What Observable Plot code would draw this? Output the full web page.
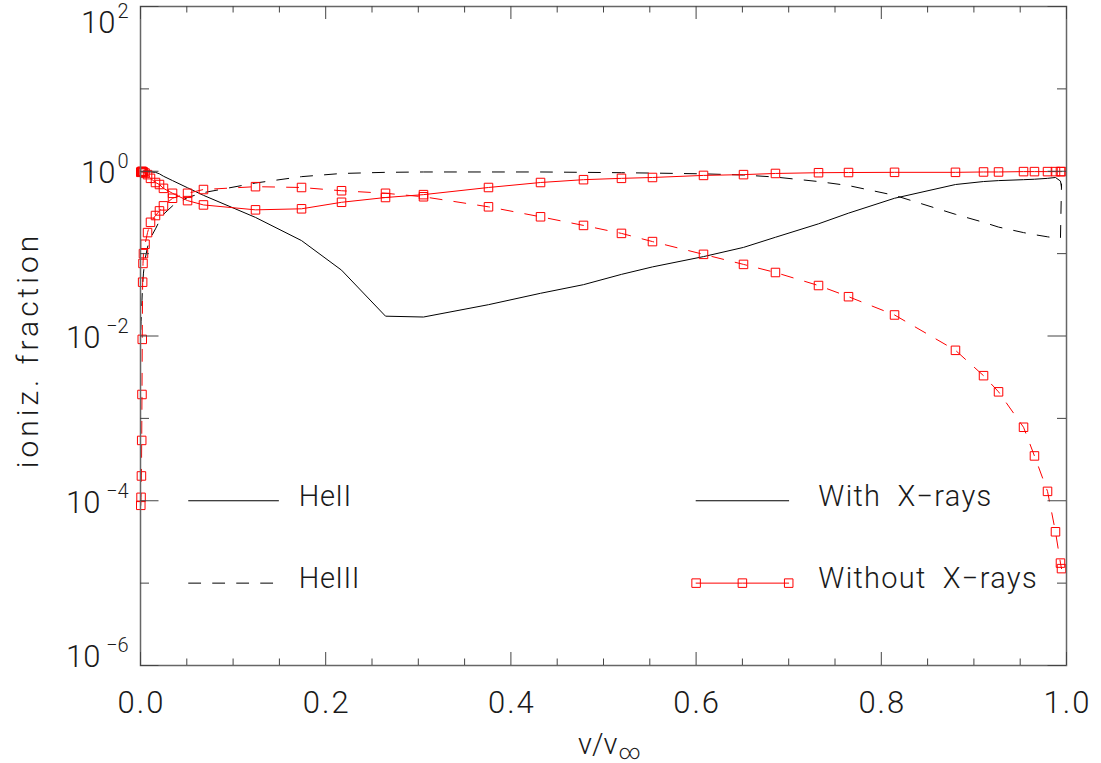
<!DOCTYPE html>
<html><head><meta charset="utf-8">
<script src="https://cdn.jsdelivr.net/npm/d3@7"></script>
<script src="https://cdn.jsdelivr.net/npm/@observablehq/plot@0.6"></script>
<style>
html,body{margin:0;padding:0;background:#fff;}
#chart svg text{font-family: Roboto, "DejaVu Sans", sans-serif; font-weight:300;}
</style></head><body><div id="chart"></div>
<script>
// velocity grid v/v_inf (shared by all four models)
const xGrid = [0.0003,0.0006,0.001,0.0013,0.0016,0.0019,0.0023,0.0027,0.0032,0.0049,
  0.0076,0.0108,0.0162,0.0205,0.0248,0.0346,0.0508,0.068,0.1242,0.1739,
  0.2171,0.2646,0.3056,0.3758,0.432,0.4784,0.5194,0.5529,0.608,0.6512,
  0.6857,0.7322,0.7646,0.8143,0.8801,0.9104,0.9266,0.9536,0.9654,0.9795,
  0.9881,0.9935,0.9946];
// With X-rays
const heII_X = [0.98,0.98,0.98,0.98,0.98,0.98,0.98,0.98,0.98,0.98,
  0.98,0.98,0.97,0.93,0.87,0.77,0.63,0.51,0.275,0.144,
  0.063,0.0174,0.017,0.024,0.033,0.042,0.056,0.069,0.092,0.119,
  0.158,0.23,0.31,0.47,0.69,0.75,0.77,0.79,0.8,0.82,
  0.84,0.76,0.64];
const heIII_X = [0.012,0.015,0.018,0.022,0.027,0.033,0.04,0.048,0.058,0.085,
  0.12,0.155,0.2,0.25,0.3,0.38,0.48,0.55,0.72,0.86,
  0.94,0.97,0.98,0.98,0.98,0.97,0.96,0.95,0.93,0.9,
  0.85,0.75,0.67,0.51,0.3,0.24,0.21,0.18,0.17,0.16,
  0.155,0.155,0.7];
// Without X-rays
const heII_noX = [0.97,0.98,0.99,0.99,0.99,0.99,0.99,0.98,0.97,0.95,
  0.91,0.82,0.73,0.69,0.62,0.54,0.44,0.39,0.34,0.35,
  0.42,0.48,0.52,0.635,0.73,0.79,0.82,0.84,0.89,0.91,
  0.94,0.96,0.965,0.97,0.97,0.98,0.98,0.99,0.99,0.99,
  0.99,0.99,0.99];
const heIII_noX = [8.8e-5,1.1e-4,2.0e-4,5.4e-4,1.95e-3,9.1e-3,0.045,0.076,0.1,0.13,
  0.18,0.24,0.29,0.33,0.38,0.47,0.54,0.6,0.65,0.635,
  0.58,0.54,0.49,0.37,0.28,0.22,0.176,0.14,0.098,0.074,
  0.059,0.041,0.030,0.018,0.0067,0.0033,0.0021,7.8e-4,3.5e-4,1.3e-4,
  4.2e-5,1.75e-5,1.5e-5];

const xMajor = [0, 0.2, 0.4, 0.6, 0.8, 1.0];
const xMinor = [0.05,0.1,0.15,0.25,0.3,0.35,0.45,0.5,0.55,0.65,0.7,0.75,0.85,0.9,0.95];
const yMajorExp = [2, 0, -2, -4, -6];
const yMinorExp = [1, -1, -3, -5];
const yTitle = "ioniz. fraction";

// legend
const legendStyleY = [1e-4, 1e-5];
const legendStyleX = [0.052, 0.149];
const legendStyleText = ["HeII", "HeIII"];
const legendModelX = [0.6, 0.65, 0.7];
const legendModelText = ["With\u2002X\u2212rays", "Without\u2002X\u2212rays"];

const W = 1101, H = 763;
const mL = 140, mR = 35, mT = 6, mB = 98;
const fw = W - mL - mR, fh = H - mT - mB;

const tbl = (ys) => xGrid.map((x, i) => ({x, y: ys[i]}));
const A = tbl(heII_X), B = tbl(heIII_X), C = tbl(heII_noX), D = tbl(heIII_noX);

const TXT = "#1a1a1a";
const AX = "#444";
const RED = "#ff0000";
const dash = "12,12";
const SQ = 4.8;

function yLabelMarks(e) {
  const v = Math.pow(10, e);
  const expStr = e < 0 ? "\u2212" + (-e) : String(e);
  const top = e === 2, bot = e === -6;
  const base10 = top ? 26 : bot ? 1 : 12;
  const baseExp = base10 - 15;
  const dx10 = e < 0 ? -40 : -25;
  return [
    Plot.text([v], {y: d => d, text: () => "10", frameAnchor: "left", textAnchor: "end",
      lineAnchor: "bottom", dx: dx10, dy: base10, fontSize: 31, fill: TXT}),
    Plot.text([v], {y: d => d, text: () => expStr, frameAnchor: "left", textAnchor: "end",
      lineAnchor: "bottom", dx: -12, dy: baseExp, fontSize: 20, fill: TXT})
  ];
}

const marks = [
  // data lines
  Plot.line(A, {x: "x", y: "y", stroke: "#000", strokeWidth: 1}),
  Plot.line(B, {x: "x", y: "y", stroke: "#000", strokeWidth: 1, strokeDasharray: dash}),
  Plot.line(C, {x: "x", y: "y", stroke: RED, strokeWidth: 1}),
  Plot.line(D, {x: "x", y: "y", stroke: RED, strokeWidth: 1, strokeDasharray: dash}),
  Plot.dot(C, {x: "x", y: "y", symbol: "square", r: SQ, stroke: RED, fill: "none", strokeWidth: 1}),
  Plot.dot(D, {x: "x", y: "y", symbol: "square", r: SQ, stroke: RED, fill: "none", strokeWidth: 1}),

  // legend: line styles
  Plot.line(legendStyleX.map(x => ({x, y: legendStyleY[0]})), {x: "x", y: "y", stroke: "#000", strokeWidth: 1}),
  Plot.line(legendStyleX.map(x => ({x, y: legendStyleY[1]})), {x: "x", y: "y", stroke: "#000", strokeWidth: 1, strokeDasharray: dash}),
  Plot.text(legendStyleText.map((t, i) => ({t, y: legendStyleY[i]})), {x: () => 0.171, y: "y", text: "t",
    textAnchor: "start", lineAnchor: "bottom", dy: 5, fontSize: 29, fill: TXT}),
  // legend: models
  Plot.line([legendModelX[0], legendModelX[2]].map(x => ({x, y: legendStyleY[0]})), {x: "x", y: "y", stroke: "#000", strokeWidth: 1}),
  Plot.line(legendModelX.map(x => ({x, y: legendStyleY[1]})), {x: "x", y: "y", stroke: RED, strokeWidth: 1}),
  Plot.dot(legendModelX.map(x => ({x, y: legendStyleY[1]})), {x: "x", y: "y", symbol: "square", r: SQ, stroke: RED, fill: "none", strokeWidth: 1}),
  Plot.text(legendModelText.map((t, i) => ({t, y: legendStyleY[i]})), {x: () => 0.732, y: "y", text: "t",
    textAnchor: "start", lineAnchor: "bottom", dy: 5, fontSize: 29, fill: TXT}),

  // frame
  Plot.frame({stroke: "#666", strokeWidth: 1.5}),
  // x ticks bottom & top
  Plot.tickX(xMajor, {x: d => d, insetTop: fh - 13, stroke: AX}),
  Plot.tickX(xMinor, {x: d => d, insetTop: fh - 6.5, stroke: AX}),
  Plot.tickX(xMajor, {x: d => d, insetBottom: fh - 13, stroke: AX}),
  Plot.tickX(xMinor, {x: d => d, insetBottom: fh - 6.5, stroke: AX}),
  // y ticks left & right
  Plot.tickY(yMajorExp.map(e => Math.pow(10, e)), {y: d => d, insetRight: fw - 18.5, stroke: AX}),
  Plot.tickY(yMinorExp.map(e => Math.pow(10, e)), {y: d => d, insetRight: fw - 9, stroke: AX}),
  Plot.tickY(yMajorExp.map(e => Math.pow(10, e)), {y: d => d, insetLeft: fw - 18.5, stroke: AX}),
  Plot.tickY(yMinorExp.map(e => Math.pow(10, e)), {y: d => d, insetLeft: fw - 9, stroke: AX}),

  // x tick labels
  Plot.text(xMajor, {x: d => d, text: d => d.toFixed(1), frameAnchor: "bottom", lineAnchor: "bottom",
    dy: 47, dx: 1, fontSize: 31, fill: TXT}),
  // y tick labels
  ...yMajorExp.flatMap(yLabelMarks),

  // axis titles
  Plot.text(["v/v"], {text: d => d, frameAnchor: "bottom", textAnchor: "end", lineAnchor: "bottom",
    dx: 14, dy: 88, fontSize: 29, fill: TXT}),
  Plot.text(["\u221e"], {text: d => d, frameAnchor: "bottom", textAnchor: "start", lineAnchor: "bottom",
    dx: 15, dy: 93, fontSize: 21, fill: TXT}),
  Plot.text([yTitle], {text: d => d, frameAnchor: "left", textAnchor: "middle", lineAnchor: "middle",
    rotate: -90, dx: -112, dy: 14, fontSize: 30, fill: TXT})
];

const chart = Plot.plot({
  width: W, height: H,
  marginLeft: mL, marginRight: mR, marginTop: mT, marginBottom: mB,
  x: {domain: [0, 1], axis: null},
  y: {type: "log", domain: [1e-6, 1e2], axis: null},
  style: {background: "#fff", overflow: "visible"},
  marks
});
const xLabelStrings = xMajor.map(d => d.toFixed(1));
chart.querySelectorAll("text").forEach(t => {
  const s = t.textContent;
  if (s === yTitle) t.style.letterSpacing = "4px";
  else if (xLabelStrings.includes(s)) t.style.letterSpacing = "2px";
  else if (legendModelText.includes(s)) t.style.letterSpacing = "1.3px";
  else if (legendStyleText.includes(s)) t.style.letterSpacing = "0.5px";
});
document.getElementById("chart").appendChild(chart);
</script></body></html>
